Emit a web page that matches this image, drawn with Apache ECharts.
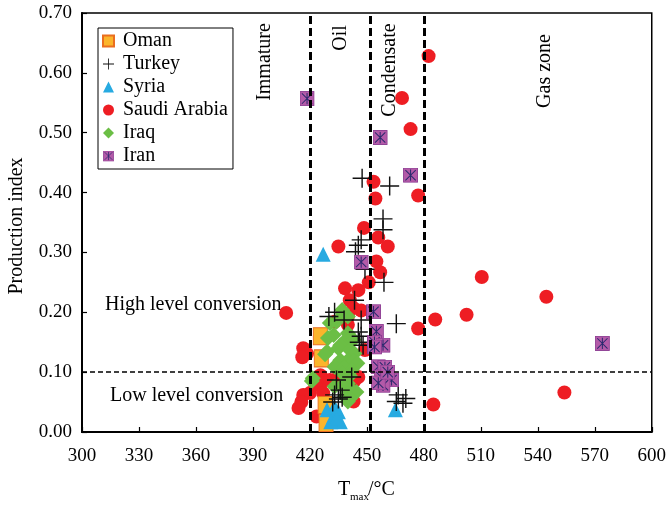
<!DOCTYPE html>
<html>
<head>
<meta charset="utf-8">
<script src="https://cdn.jsdelivr.net/npm/echarts@6/dist/echarts.min.js"></script>
<style>
  html, body { margin: 0; padding: 0; background: #fff; }
  #chart { width: 669px; height: 509px; }
</style>
</head>
<body>
<div id="chart"></div>
<script>
// Tmax (°C), production index
const omanData = [[425.5, 0.160], [426, 0.123], [428, 0.045], [428.5, 0.015]]

const turkeyData = [
  [447.5, 0.424], [462, 0.411], [458.5, 0.356], [458.5, 0.338], [447, 0.321],
  [445.5, 0.312], [444, 0.301], [459, 0.250], [449, 0.272], [465.5, 0.181],
  [466.5, 0.062], [470.5, 0.056], [469, 0.048], [465.5, 0.051], [443.5, 0.220],
  [433, 0.200], [430, 0.193], [447, 0.187], [438, 0.187], [445.5, 0.167],
  [447, 0.160], [446, 0.150], [448, 0.145], [442, 0.092], [434, 0.087],
  [436, 0.070], [433, 0.062], [435, 0.055], [437, 0.058], [432, 0.050]
]

const syriaData = [
  [427, 0.297], [465, 0.037], [429, 0.037], [433, 0.042], [432.5, 0.026],
  [435, 0.034], [436, 0.017], [431, 0.017], [434, 0.023]
]

const saudiData = [
  [482.5, 0.628], [468.5, 0.558], [473, 0.506], [477, 0.395], [453.5, 0.418],
  [454.5, 0.390], [448.5, 0.341], [456, 0.325], [461, 0.310], [435, 0.310],
  [455, 0.285], [457, 0.267], [451, 0.250], [438.5, 0.240], [445.5, 0.237],
  [441, 0.220], [443, 0.207], [447, 0.203], [440, 0.193], [433, 0.184],
  [440, 0.179], [407.5, 0.199], [416.5, 0.140], [418.5, 0.131], [416, 0.125],
  [425.5, 0.095], [426, 0.081], [430.5, 0.087], [420, 0.065], [416.5, 0.062],
  [415.5, 0.050], [414, 0.040], [423.5, 0.026], [445.5, 0.092], [443.5, 0.086],
  [443, 0.051], [435, 0.092], [449, 0.137], [422.8, 0.079], [427, 0.065],
  [510.5, 0.259], [544.5, 0.226], [502.5, 0.196], [486, 0.188], [477, 0.173],
  [554, 0.066], [485, 0.046]
]

const iraqData = [
  [437, 0.204], [437.5, 0.198], [434, 0.184], [430.5, 0.182], [440, 0.193],
  [432.5, 0.162], [429.5, 0.157], [440, 0.165], [439, 0.154], [443, 0.154],
  [436, 0.145], [435, 0.140], [441, 0.137], [429, 0.134], [428, 0.130],
  [443.5, 0.131], [436, 0.120], [440, 0.120], [443, 0.118], [445, 0.115],
  [433, 0.109], [438, 0.108], [442, 0.104], [437, 0.098], [441, 0.094],
  [421.5, 0.090], [421, 0.085], [440, 0.081], [433, 0.076], [437, 0.078],
  [442, 0.070], [444.5, 0.067], [438.5, 0.059], [440, 0.051], [441, 0.056]
]

const iranData = [
  [418.5, 0.557], [457, 0.492], [473, 0.429], [447, 0.284], [574, 0.148],
  [453.5, 0.201], [455, 0.168], [454, 0.150], [458.5, 0.145], [454, 0.142],
  [456, 0.109], [459.5, 0.108], [457.5, 0.092], [463, 0.087], [458.5, 0.078],
  [456, 0.082], [461, 0.100]
]

const zoneLines = [420, 452, 480]
const conversionLine = 0.10
const legendOrder = ['Oman', 'Turkey', 'Syria', 'Saudi Arabia', 'Iraq', 'Iran']

const FONT = 'Liberation Serif'

const plusPath = 'path://M9.25,0h1.5v9.25h9.25v1.5h-9.25v9.25h-1.5v-9.25h-9.25v-1.5h9.25z'
const iranSvg = "<svg xmlns='http://www.w3.org/2000/svg' width='16' height='16'>" +
  "<rect x='0.5' y='0.5' width='15' height='15' fill='#B35AA8' stroke='#8C3C92'/>" +
  "<path d='M2.5 2.5L13.5 13.5M13.5 2.5L2.5 13.5M8 2V14' stroke='#2C2A6E' stroke-width='1.1'/></svg>"
const iranSymbol = 'image://data:image/svg+xml;charset=utf-8,' + encodeURIComponent(iranSvg)

const chart = echarts.init(document.getElementById('chart'))

chart.setOption({
  animation: false,
  backgroundColor: '#fff',
  textStyle: { fontFamily: FONT },
  grid: {
    left: 82, right: 17, top: 13, bottom: 77,
    show: true, borderColor: '#000', borderWidth: 1.5
  },
  legend: {
    data: legendOrder,
    orient: 'vertical',
    left: 98, top: 28,
    padding: [3, 5, 3, 4],
    itemGap: 3,
    itemWidth: 11, itemHeight: 11,
    backgroundColor: '#fff',
    borderColor: '#000', borderWidth: 1,
    textStyle: { fontFamily: FONT, fontSize: 20, color: '#000', padding: [0, 0, 0, 4] }
  },
  xAxis: {
    type: 'value',
    min: 300, max: 600, interval: 30,
    axisLine: { lineStyle: { color: '#000', width: 2 } },
    axisTick: { inside: true, length: 5, lineStyle: { color: '#000', width: 1.2 } },
    axisLabel: { color: '#000', fontSize: 19, fontFamily: FONT, margin: 15 },
    splitLine: { show: false }
  },
  yAxis: {
    type: 'value',
    min: 0, max: 0.7, interval: 0.1,
    axisLine: { show: true, lineStyle: { color: '#000', width: 2 } },
    axisTick: { show: true, inside: true, length: 5, lineStyle: { color: '#000', width: 1.2 } },
    axisLabel: { color: '#000', fontSize: 19, fontFamily: FONT, margin: 10, formatter: v => v.toFixed(2) },
    splitLine: { show: false }
  },
  series: [
    {
      name: 'Saudi Arabia', type: 'scatter', data: saudiData,
      symbol: 'circle', symbolSize: 14,
      itemStyle: { color: '#EE1D23', opacity: 1 },
      markLine: {
        silent: true, symbol: ['none', 'none'], label: { show: false },
        data: [
          ...zoneLines.map(v => ({ xAxis: v, lineStyle: { color: '#000', width: 3, type: [8, 4] } })),
          { yAxis: conversionLine, lineStyle: { color: '#000', width: 1.6, type: [5, 3] } }
        ]
      }
    },
    {
      name: 'Oman', type: 'scatter', data: omanData,
      symbol: 'rect', symbolSize: [14, 17],
      itemStyle: { color: '#FBB52B', borderColor: '#EA6E1F', borderWidth: 1, opacity: 1 }
    },
    {
      name: 'Syria', type: 'scatter', data: syriaData,
      symbol: 'triangle', symbolSize: 15,
      itemStyle: { color: '#27AAE1', opacity: 1 }
    },
    {
      name: 'Iraq', type: 'scatter', data: iraqData,
      symbol: 'diamond', symbolSize: 16,
      itemStyle: { color: '#6BBE45', opacity: 1 }
    },
    {
      name: 'Turkey', type: 'scatter', data: turkeyData,
      symbol: plusPath, symbolSize: 19,
      itemStyle: { color: '#111', opacity: 1 }
    },
    {
      name: 'Iran', type: 'scatter', data: iranData,
      symbol: iranSymbol, symbolSize: 15,
      itemStyle: { opacity: 1 }
    }
  ],
  graphic: [
    { type: 'text', x: 265, y: 62, rotation: Math.PI / 2,
      style: { text: 'Immature', font: '20px "Liberation Serif"', fill: '#000', align: 'center', verticalAlign: 'middle' } },
    { type: 'text', x: 341, y: 38, rotation: Math.PI / 2,
      style: { text: 'Oil', font: '20px "Liberation Serif"', fill: '#000', align: 'center', verticalAlign: 'middle' } },
    { type: 'text', x: 390, y: 70, rotation: Math.PI / 2,
      style: { text: 'Condensate', font: '20px "Liberation Serif"', fill: '#000', align: 'center', verticalAlign: 'middle' } },
    { type: 'text', x: 545, y: 71, rotation: Math.PI / 2,
      style: { text: 'Gas zone', font: '20px "Liberation Serif"', fill: '#000', align: 'center', verticalAlign: 'middle' } },
    { type: 'text', x: 105, y: 305,
      style: { text: 'High level conversion', font: '20px "Liberation Serif"', fill: '#000', align: 'left', verticalAlign: 'middle' } },
    { type: 'text', x: 110, y: 396,
      style: { text: 'Low level conversion', font: '20px "Liberation Serif"', fill: '#000', align: 'left', verticalAlign: 'middle' } },
    { type: 'text', x: 17, y: 226, rotation: Math.PI / 2,
      style: { text: 'Production index', font: '20px "Liberation Serif"', fill: '#000', align: 'center', verticalAlign: 'middle' } },
    { type: 'text', x: 338, y: 490,
      style: { text: 'T', font: '20px "Liberation Serif"', fill: '#000', align: 'left', verticalAlign: 'middle' } },
    { type: 'text', x: 350, y: 497,
      style: { text: 'max', font: '11px "Liberation Serif"', fill: '#000', align: 'left', verticalAlign: 'middle' } },
    { type: 'text', x: 368, y: 490,
      style: { text: '/°C', font: '20px "Liberation Serif"', fill: '#000', align: 'left', verticalAlign: 'middle' } }
  ]
})
</script>
</body>
</html>
